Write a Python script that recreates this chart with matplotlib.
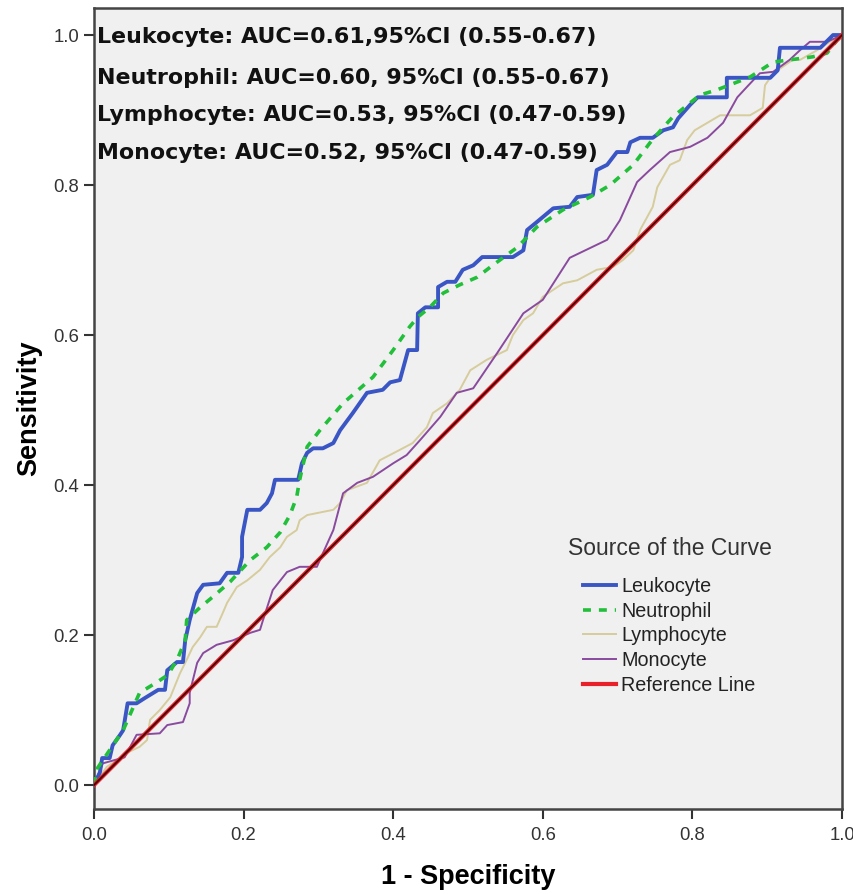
import matplotlib
matplotlib.use("Agg")
import matplotlib.pyplot as plt

# ROC curves (1 - specificity, sensitivity)
leuko_x = [0, 0.008, 0.011, 0.021, 0.025, 0.035, 0.039, 0.045, 0.057, 0.068, 0.086, 0.095,
           0.098, 0.111, 0.119, 0.122, 0.128, 0.138, 0.146, 0.168, 0.178, 0.193, 0.198, 0.198,
           0.205, 0.222, 0.231, 0.238, 0.242, 0.273, 0.278, 0.285, 0.293, 0.306, 0.320, 0.329,
           0.346, 0.365, 0.386, 0.396, 0.409, 0.420, 0.432, 0.433, 0.443, 0.460, 0.460, 0.472,
           0.483, 0.493, 0.507, 0.519, 0.560, 0.574, 0.579, 0.590, 0.614, 0.636, 0.646, 0.667,
           0.672, 0.686, 0.699, 0.713, 0.717, 0.730, 0.747, 0.761, 0.774, 0.781, 0.797, 0.807,
           0.846, 0.846, 0.904, 0.914, 0.917, 0.971, 0.988, 1.0]
leuko_y = [0, 0.017, 0.036, 0.036, 0.053, 0.067, 0.073, 0.109, 0.109, 0.116, 0.127, 0.127,
           0.153, 0.164, 0.164, 0.193, 0.220, 0.256, 0.267, 0.269, 0.283, 0.283, 0.304, 0.331,
           0.367, 0.367, 0.376, 0.389, 0.407, 0.407, 0.429, 0.443, 0.449, 0.449, 0.456, 0.473,
           0.496, 0.523, 0.527, 0.537, 0.540, 0.580, 0.580, 0.629, 0.637, 0.637, 0.664, 0.671,
           0.671, 0.687, 0.693, 0.704, 0.704, 0.713, 0.740, 0.749, 0.769, 0.771, 0.784, 0.787,
           0.820, 0.827, 0.844, 0.844, 0.857, 0.863, 0.863, 0.873, 0.877, 0.889, 0.907, 0.917,
           0.917, 0.943, 0.943, 0.953, 0.983, 0.983, 1.0, 1.0]

neutro_x = [0, 0.005, 0.024, 0.039, 0.061, 0.084, 0.099, 0.112, 0.122, 0.124, 0.142, 0.159,
            0.182, 0.209, 0.231, 0.249, 0.262, 0.271, 0.275, 0.285, 0.302, 0.333, 0.373, 0.400,
            0.422, 0.433, 0.449, 0.467, 0.489, 0.512, 0.533, 0.566, 0.592, 0.627, 0.663, 0.690,
            0.721, 0.743, 0.761, 0.774, 0.790, 0.810, 0.833, 0.877, 0.908, 0.961, 0.980, 0.993, 1.0]
neutro_y = [0, 0.023, 0.051, 0.073, 0.123, 0.137, 0.147, 0.169, 0.193, 0.220, 0.237, 0.251,
            0.271, 0.300, 0.317, 0.337, 0.360, 0.384, 0.407, 0.451, 0.473, 0.509, 0.544, 0.580,
            0.611, 0.624, 0.637, 0.656, 0.667, 0.677, 0.693, 0.717, 0.744, 0.767, 0.784, 0.800,
            0.827, 0.856, 0.877, 0.891, 0.904, 0.920, 0.927, 0.944, 0.964, 0.971, 0.976, 0.993, 1.0]

lympho_x = [0, 0.017, 0.044, 0.061, 0.071, 0.075, 0.088, 0.102, 0.115, 0.124, 0.132, 0.142,
            0.151, 0.164, 0.172, 0.178, 0.191, 0.205, 0.222, 0.235, 0.249, 0.258, 0.271, 0.275,
            0.285, 0.320, 0.329, 0.338, 0.365, 0.382, 0.409, 0.426, 0.445, 0.453, 0.472, 0.489,
            0.503, 0.525, 0.552, 0.560, 0.574, 0.587, 0.600, 0.627, 0.646, 0.672, 0.694, 0.707,
            0.721, 0.730, 0.747, 0.753, 0.770, 0.783, 0.793, 0.803, 0.820, 0.837, 0.877, 0.894,
            0.897, 0.908, 0.934, 0.944, 0.967, 0.993, 1.0]
lympho_y = [0, 0.024, 0.043, 0.051, 0.060, 0.087, 0.100, 0.117, 0.149, 0.167, 0.184, 0.197,
            0.211, 0.211, 0.229, 0.243, 0.264, 0.273, 0.287, 0.304, 0.317, 0.331, 0.340, 0.353,
            0.360, 0.367, 0.376, 0.393, 0.403, 0.433, 0.447, 0.456, 0.477, 0.496, 0.509, 0.527,
            0.553, 0.567, 0.580, 0.600, 0.620, 0.629, 0.651, 0.669, 0.673, 0.687, 0.691, 0.700,
            0.713, 0.740, 0.771, 0.797, 0.827, 0.833, 0.860, 0.873, 0.883, 0.893, 0.893, 0.903,
            0.933, 0.949, 0.967, 0.967, 0.980, 0.997, 1.0]

mono_x = [0, 0.012, 0.041, 0.057, 0.088, 0.098, 0.119, 0.128, 0.128, 0.138, 0.146, 0.164,
          0.186, 0.209, 0.222, 0.226, 0.239, 0.258, 0.275, 0.298, 0.306, 0.320, 0.333, 0.352,
          0.373, 0.400, 0.418, 0.436, 0.463, 0.485, 0.507, 0.539, 0.574, 0.600, 0.636, 0.686,
          0.703, 0.726, 0.743, 0.770, 0.797, 0.820, 0.841, 0.860, 0.873, 0.890, 0.908, 0.930,
          0.944, 0.957, 0.980, 1.0]
mono_y = [0, 0.029, 0.037, 0.067, 0.069, 0.080, 0.084, 0.109, 0.123, 0.163, 0.176, 0.187,
          0.193, 0.203, 0.207, 0.220, 0.260, 0.284, 0.291, 0.291, 0.309, 0.340, 0.389, 0.403,
          0.411, 0.429, 0.440, 0.460, 0.491, 0.523, 0.529, 0.576, 0.629, 0.647, 0.703, 0.727,
          0.753, 0.804, 0.820, 0.844, 0.851, 0.863, 0.883, 0.917, 0.931, 0.949, 0.951, 0.967,
          0.980, 0.991, 0.991, 1.0]

ref_x = [0, 1]
ref_y = [0, 1]

auc_lines = [
    "Leukocyte: AUC=0.61,95%CI (0.55-0.67)",
    "Neutrophil: AUC=0.60, 95%CI (0.55-0.67)",
    "Lymphocyte: AUC=0.53, 95%CI (0.47-0.59)",
    "Monocyte: AUC=0.52, 95%CI (0.47-0.59)",
]
auc_y = [0.997, 0.943, 0.893, 0.843]

ticks = [0.0, 0.2, 0.4, 0.6, 0.8, 1.0]

plt.rcParams['font.family'] = ['Liberation Sans', 'DejaVu Sans']

fig = plt.figure(figsize=(8.54, 8.94), dpi=100)
ax = fig.add_axes([0.110, 0.095, 0.876, 0.896])
ax.set_facecolor('#f0f0f0')

ax.plot(leuko_x, leuko_y, color='#3a56c4', lw=2.8, label='Leukocyte', zorder=4)
ax.plot(neutro_x, neutro_y, color='#22bf3a', lw=2.6, ls=(0, (2.2, 2.2)), label='Neutrophil', zorder=5)
ax.plot(lympho_x, lympho_y, color='#d6cc9c', lw=1.4, label='Lymphocyte', zorder=3)
ax.plot(mono_x, mono_y, color='#8a4a9e', lw=1.4, label='Monocyte', zorder=3)
ax.plot(ref_x, ref_y, color='#e8202a', lw=3.0, label='Reference Line', zorder=6)
ax.plot(ref_x, ref_y, color='#3a0000', lw=1.2, zorder=7)

for txt, yy in zip(auc_lines, auc_y):
    ax.text(0.004, yy, txt, fontsize=15.9, fontweight='bold', va='center', ha='left',
            family=['DejaVu Sans'], color='#111111', zorder=8)

ax.set_xlim(0, 1)
ax.set_ylim(-0.032, 1.036)
ax.set_xticks(ticks)
ax.set_yticks(ticks)
ax.set_xticklabels([f"{t:.1f}" for t in ticks])
ax.set_yticklabels([f"{t:.1f}" for t in ticks])
ax.tick_params(direction='out', length=7, width=1.5, labelsize=13.3, colors='#333333',
               labelcolor='#333333')
ax.tick_params(axis='x', pad=6)
for sp in ax.spines.values():
    sp.set_linewidth(1.8)
    sp.set_color('#444444')

ax.set_xlabel('1 - Specificity', fontsize=19.5, fontweight='bold', labelpad=14)
ax.set_ylabel('Sensitivity', fontsize=19.5, fontweight='bold', labelpad=8)

ax.text(0.634, 0.316, 'Source of the Curve', fontsize=16.5, color='#333333', va='center',
        ha='left', transform=ax.transData)
leg = ax.legend(loc='upper left', bbox_to_anchor=(0.630, 0.312), frameon=False,
                fontsize=14.2, handlelength=1.65, handletextpad=0.3, labelspacing=0.29)
for t in leg.get_texts():
    t.set_color('#222222')

fig.savefig('out.png', dpi=100)
